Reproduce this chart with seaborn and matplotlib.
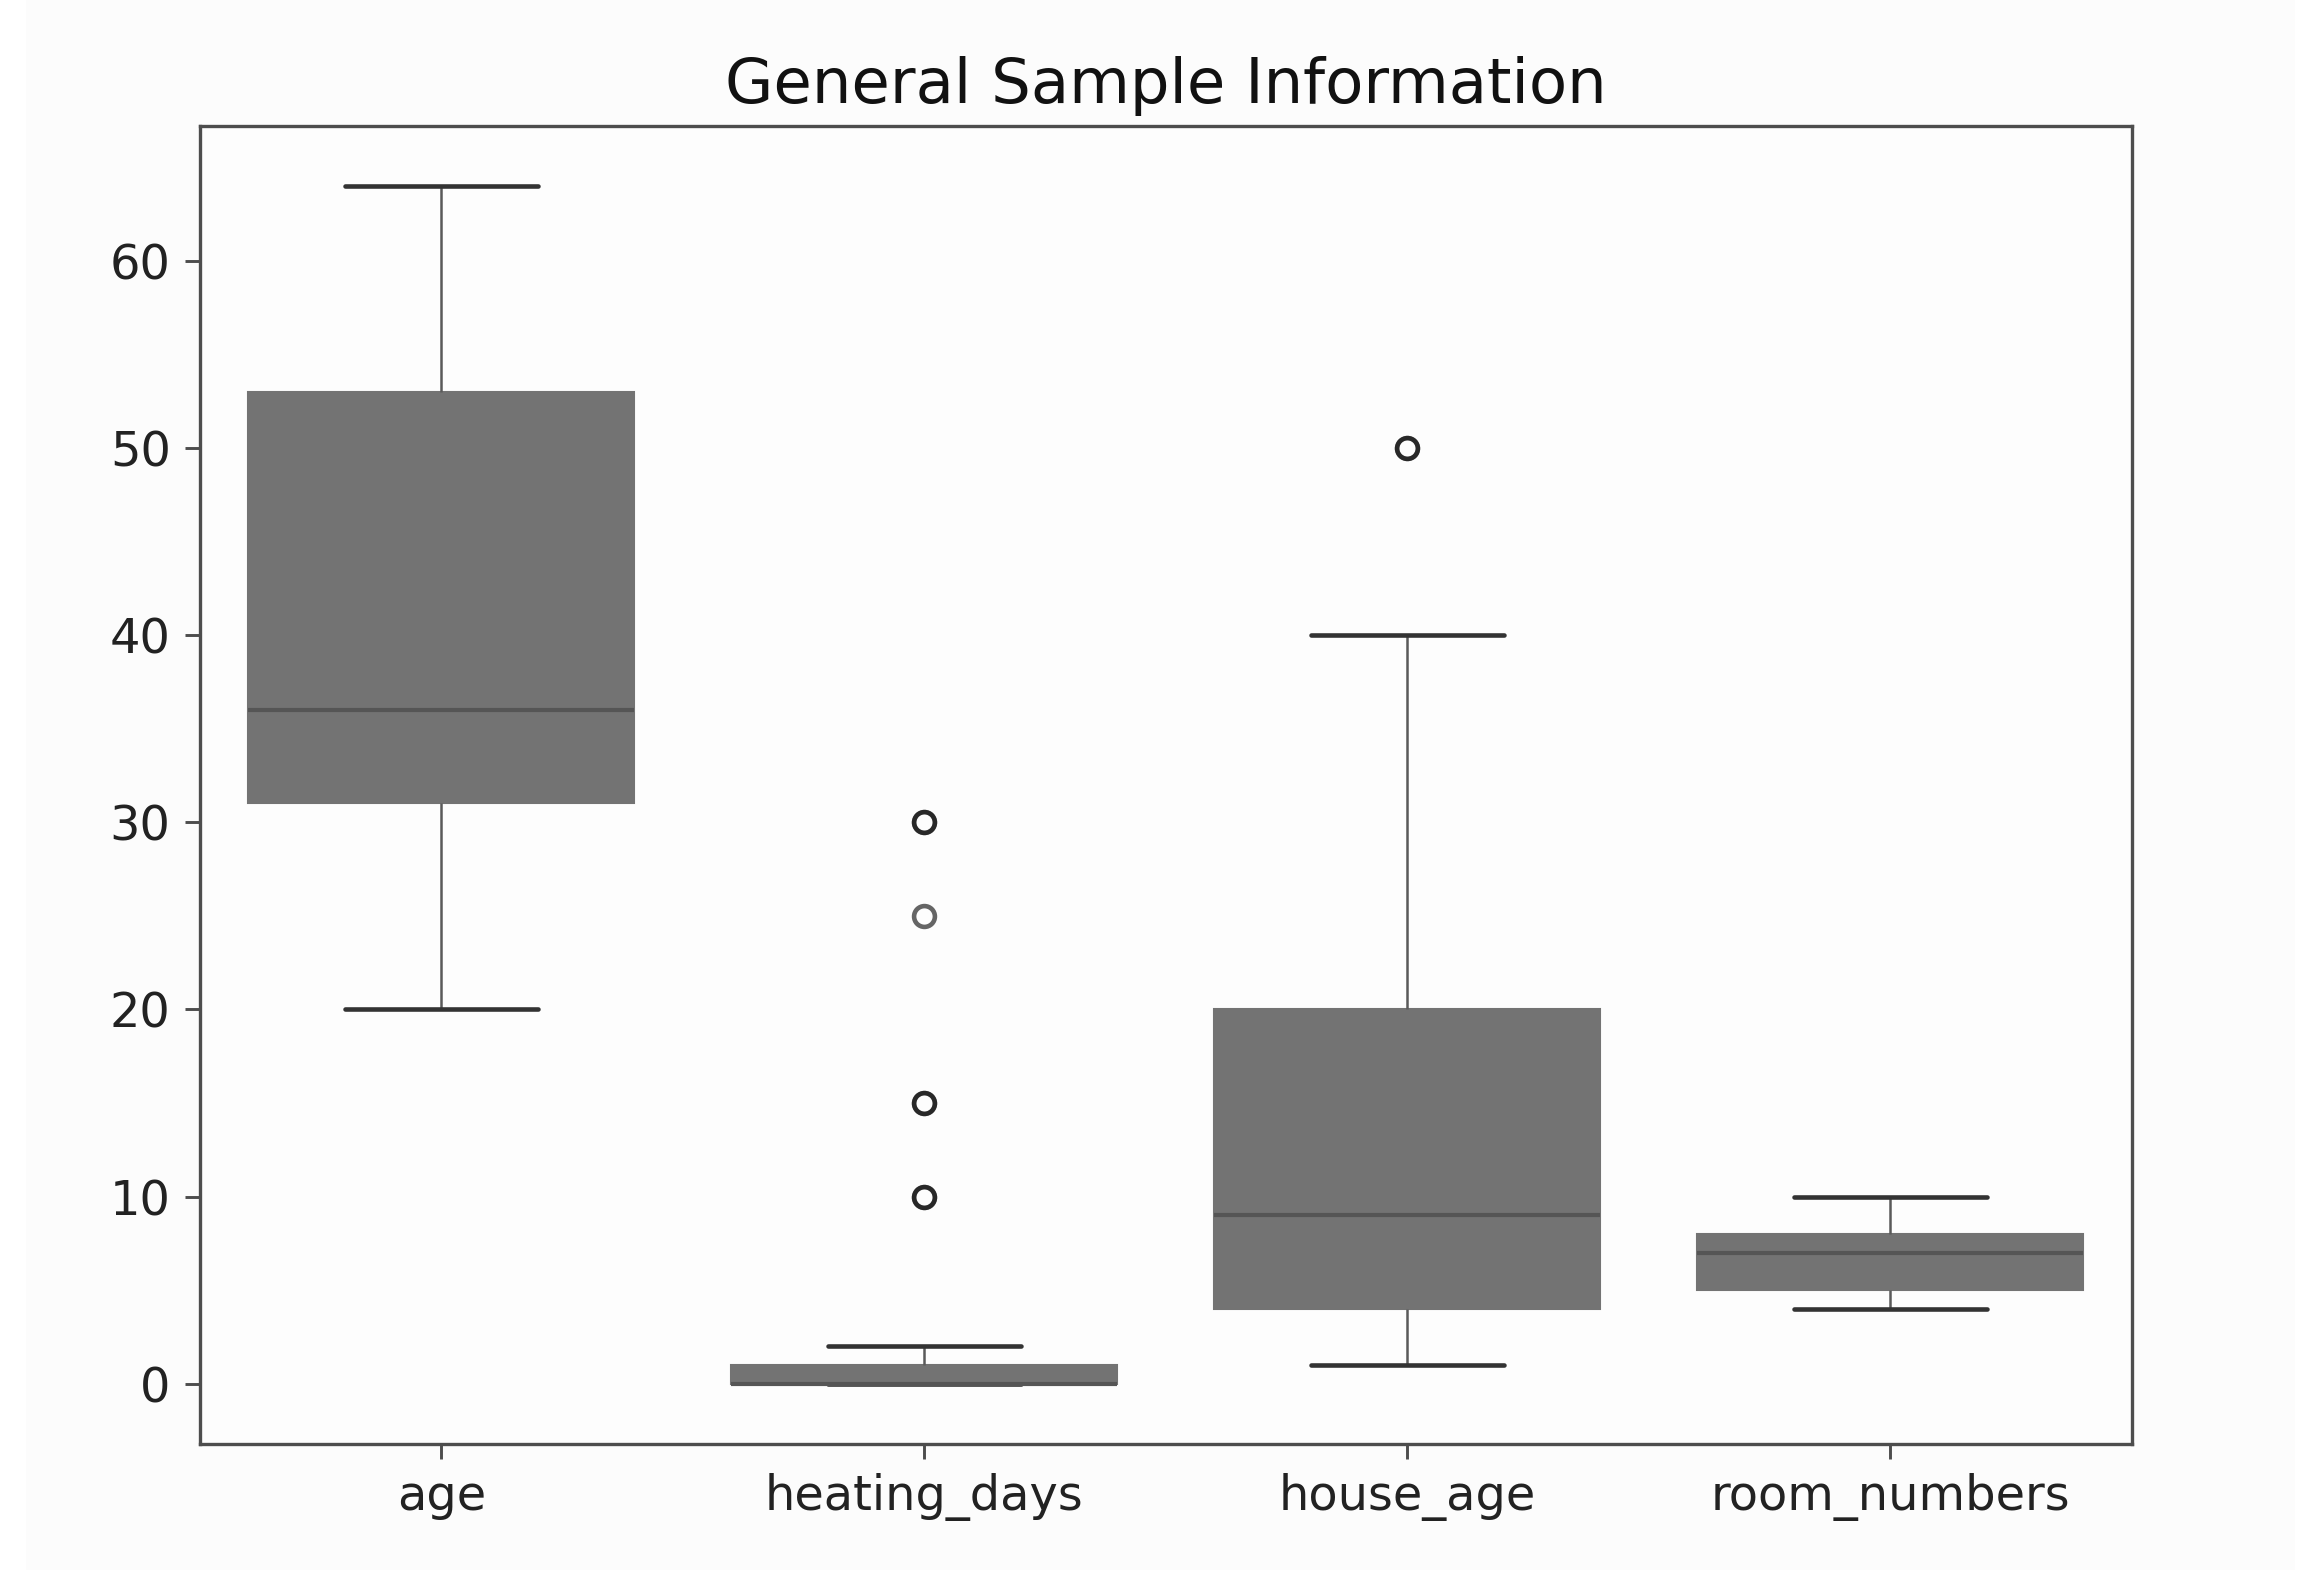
import pandas as pd
import numpy as np
import matplotlib.pyplot as plt
import seaborn as sns
from matplotlib.patches import Rectangle

age = [20, 23, 27, 30, 31, 32, 34, 35, 36, 40, 44, 48, 53, 55, 58, 61, 64]
heating_days = [0] * 22 + [1] * 9 + [2] * 3 + [10, 10, 15, 15, 25, 30, 30]
house_age = [1, 2, 3, 4, 4, 5, 6, 8, 9, 10, 12, 15, 20, 25, 40, 50, 50]
room_numbers = [4, 4, 5, 5, 5, 6, 6, 7, 7, 7, 8, 8, 8, 8, 9, 9, 10]

columns = ['age', 'heating_days', 'house_age', 'room_numbers']
samples = [age, heating_days, house_age, room_numbers]

# long form frame for seaborn
df = pd.concat([pd.DataFrame({'variable': name, 'value': vals})
                for name, vals in zip(columns, samples)], ignore_index=True)

sns.set_style('ticks', {'axes.edgecolor': '.3', 'xtick.color': '.3', 'ytick.color': '.3',
                        'text.color': '.1'})
plt.rcParams['font.family'] = ['DejaVu Sans']
plt.rcParams['xtick.major.size'] = 3.5
plt.rcParams['ytick.major.size'] = 3.5
plt.rcParams['xtick.major.width'] = 0.7
plt.rcParams['ytick.major.width'] = 0.7

fig = plt.figure(figsize=(2321 / 300, 1596 / 300), dpi=300, facecolor='white')
# faint off-white panel behind the chart (screenshot frame)
fig.patches.append(Rectangle((0.011, 0.016), 0.978, 0.984, transform=fig.transFigure,
                             facecolor='#fcfcfc', edgecolor='none', zorder=-10))
ax = fig.add_axes([0.0861, 0.0955, 0.8323, 0.8256])
ax.set_facecolor('#fdfdfd')

box_color = '#737373'
sns.boxplot(data=df, x='variable', y='value', order=columns, ax=ax,
            color=box_color, linecolor='#3a3a3a', width=0.8, fliersize=5,
            boxprops=dict(edgecolor=box_color, linewidth=0.5),
            medianprops=dict(color='#555555', linewidth=1.0),
            whiskerprops=dict(color='#5a5a5a', linewidth=0.6),
            capprops=dict(color='#333333', linewidth=1.1),
            flierprops=dict(marker='o', markerfacecolor='none',
                            markeredgecolor=(0, 0, 0, 0.6), markeredgewidth=1.1))

ax.set_xlabel('')
ax.set_ylabel('')
ax.set_title('General Sample Information', fontsize=15, pad=5.5, color='#111111')
ax.tick_params(axis='both', labelsize=11.5, labelcolor='#222222')
for sp in ax.spines.values():
    sp.set_visible(True)
    sp.set_linewidth(0.8)

fig.savefig('out.png', dpi=300, facecolor='white')
